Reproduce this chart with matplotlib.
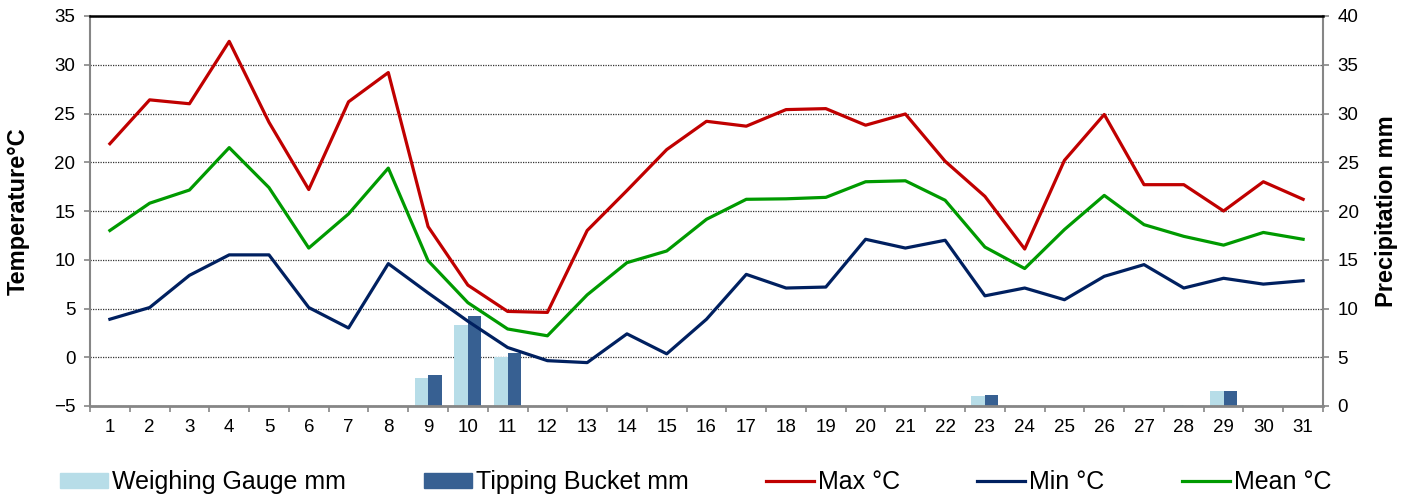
import numpy as np
import matplotlib.pyplot as plt
from matplotlib.lines import Line2D
from matplotlib.patches import Patch

plt.rcParams['font.family'] = ['Liberation Sans', 'DejaVu Sans']

days = np.arange(1, 32)

# precipitation (mm), right axis
weighing_mm = [0, 0, 0, 0, 0, 0, 0, 0, 2.9, 8.3, 5.0, 0, 0, 0, 0, 0,
               0, 0, 0, 0, 0, 0, 1.0, 0, 0, 0, 0, 0.1, 1.5, 0, 0]
tipping_mm = [0, 0, 0, 0, 0, 0, 0, 0, 3.2, 9.2, 5.4, 0, 0, 0, 0, 0,
              0, 0, 0, 0, 0, 0, 1.1, 0, 0, 0, 0, 0, 1.5, 0, 0]

# temperature (deg C), left axis
t_max = [21.9, 26.4, 26.0, 32.4, 24.1, 17.2, 26.2, 29.2, 13.4, 7.4, 4.7, 4.6,
         13.0, 17.1, 21.3, 24.2, 23.7, 25.4, 25.5, 23.8, 24.95, 20.1, 16.5,
         11.1, 20.2, 24.9, 17.7, 17.7, 15.0, 18.0, 16.2]
t_min = [3.9, 5.1, 8.4, 10.5, 10.5, 5.1, 3.0, 9.6, 6.6, 3.7, 1.0, -0.35,
         -0.55, 2.4, 0.35, 3.9, 8.5, 7.1, 7.2, 12.1, 11.2, 12.0, 6.3,
         7.1, 5.9, 8.3, 9.5, 7.1, 8.1, 7.5, 7.85]
t_mean = [13.0, 15.8, 17.15, 21.5, 17.4, 11.2, 14.7, 19.4, 9.9, 5.6, 2.9, 2.2,
          6.4, 9.7, 10.9, 14.15, 16.2, 16.25, 16.4, 18.0, 18.1, 16.1, 11.3,
          9.1, 13.1, 16.6, 13.6, 12.4, 11.5, 12.8, 12.1]

c_weigh = '#B7DDE8'
c_tip = '#376092'
c_max = '#C00000'
c_min = '#002060'
c_mean = '#009A00'
grey = '#868686'

fig = plt.figure(figsize=(14.16, 5.0), dpi=100)
ax1 = fig.add_axes([90 / 1416, 1 - 406 / 500, 1233 / 1416, 390 / 500])
ax2 = ax1.twinx()

# lines above the bars
ax1.set_zorder(ax2.get_zorder() + 1)
ax1.patch.set_visible(False)

bw = 0.34
ax2.bar(days - bw / 2, weighing_mm, width=bw, color=c_weigh, zorder=2)
ax2.bar(days + bw / 2, tipping_mm, width=bw, color=c_tip, zorder=2)
ax2.set_ylim(0, 40)
ax2.set_yticks(np.arange(0, 41, 5))
ax2.set_axisbelow(True)
ax2.yaxis.grid(True, linestyle=(0, (1, 1)), color='#333333', linewidth=0.9)

lw = 2.3
ax1.plot(days, t_max, color=c_max, lw=lw)
ax1.plot(days, t_min, color=c_min, lw=lw)
ax1.plot(days, t_mean, color=c_mean, lw=lw)
ax1.set_ylim(-5, 35)
ax1.set_yticks(np.arange(-5, 36, 5))
ax1.set_xlim(0.5, 31.5)
ax1.set_xticks(days)
ax1.set_xticks(np.arange(0.5, 32, 1), minor=True)

# spines
for s in ['left', 'right', 'top', 'bottom']:
    ax2.spines[s].set_visible(False)
ax2.spines['right'].set_visible(True)
ax2.spines['right'].set_color(grey)
ax2.spines['right'].set_linewidth(1.5)
ax1.spines['right'].set_visible(False)
ax1.spines['top'].set_color('black')
ax1.spines['top'].set_linewidth(1.8)
ax1.spines['left'].set_color(grey)
ax1.spines['left'].set_linewidth(1.5)
ax1.spines['bottom'].set_color(grey)
ax1.spines['bottom'].set_linewidth(2.0)

ax1.tick_params(axis='x', which='major', length=0, labelsize=13.5, pad=9)
ax1.tick_params(axis='x', which='minor', length=4.5, width=1.2, color=grey)
ax1.tick_params(axis='y', length=4.5, width=1.2, color=grey, labelsize=13.5, pad=6)
ax2.tick_params(axis='y', length=4.5, width=1.2, color=grey, labelsize=13.5, pad=6)

ax1.set_ylabel('Temperature°C', fontsize=17, fontweight='bold')
ax1.yaxis.set_label_coords(-0.0487, 0.5)
ax2.set_ylabel('Precipitation mm', fontsize=17, fontweight='bold')
ax2.yaxis.set_label_coords(1.042, 0.5)

handles = [Patch(color=c_weigh), Patch(color=c_tip),
           Line2D([], [], color=c_max, lw=lw),
           Line2D([], [], color=c_min, lw=lw),
           Line2D([], [], color=c_mean, lw=lw)]
labels = ['Weighing Gauge mm', 'Tipping Bucket mm', 'Max °C', 'Min °C', 'Mean °C']
fig.legend(handles, labels, loc='center', bbox_to_anchor=(0.4915, 0.036), ncol=5,
           frameon=False, fontsize=18, handlelength=1.92, handleheight=0.55,
           handletextpad=0.16, columnspacing=3.1, borderpad=0)

fig.savefig('out.png', dpi=100)
